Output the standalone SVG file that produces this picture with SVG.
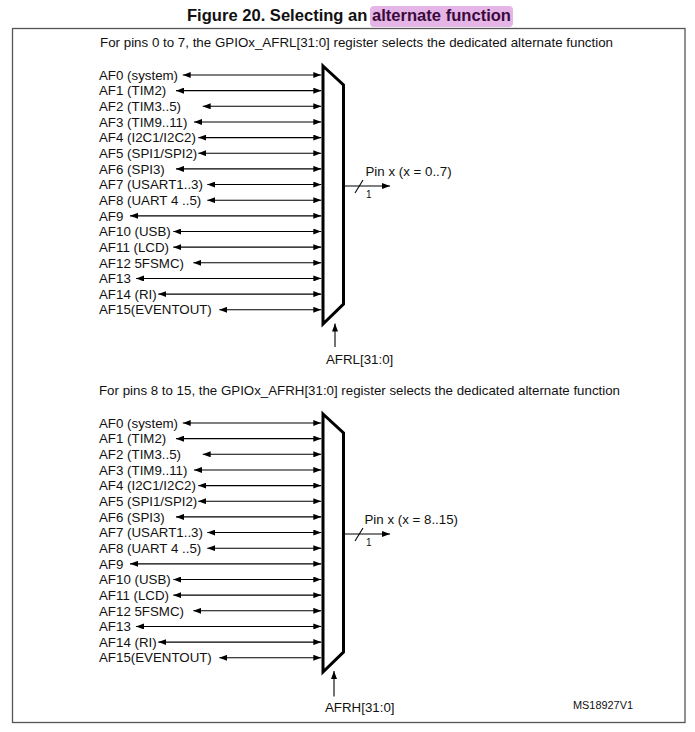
<svg xmlns="http://www.w3.org/2000/svg" width="695" height="732" viewBox="0 0 695 732">
<style>
text { font-family: "Liberation Sans", Arial, sans-serif; fill: #111; }
.lbl { font-size: 13.3px; }
.sub { font-size: 13.3px; }
.title { font-size: 16.5px; font-weight: bold; }
.small { font-size: 10px; }
.ref { font-size: 10.5px; }
.mux { fill: #fff; stroke: #000; stroke-width: 3; stroke-linejoin: miter; }
.frame { fill: #fff; stroke: #555; stroke-width: 1.3; }
.conn line { stroke: #000; stroke-width: 1.1; }
.bi { marker-start: url(#ah); marker-end: url(#ah); }
.uni { marker-end: url(#ah); }
</style>
<defs>
<marker id="ah" viewBox="0 0 8 6" refX="8" refY="3" markerWidth="8" markerHeight="6" markerUnits="userSpaceOnUse" orient="auto-start-reverse">
<path d="M0,0 L8,3 L0,6 z" fill="#000"/>
</marker>
</defs>
<rect width="695" height="732" fill="#fff"/>
<g id="title">
<rect x="370" y="6" width="143" height="21" rx="4" fill="#e4b5e6"/>
<text class="title" x="187" y="21" textLength="324" lengthAdjust="spacingAndGlyphs">Figure 20. Selecting an <tspan fill="#3a0a3a">alternate function</tspan></text>
</g>
<g id="frame">
<rect class="frame" x="12.5" y="28.5" width="672.5" height="694"/>
</g>
<g id="subtitle-afrl">
<text class="sub" x="100" y="47" textLength="513" lengthAdjust="spacingAndGlyphs">For pins 0 to 7, the GPIOx_AFRL[31:0] register selects the dedicated alternate function</text>
</g>
<g id="subtitle-afrh">
<text class="sub" x="99" y="395" textLength="521" lengthAdjust="spacingAndGlyphs">For pins 8 to 15, the GPIOx_AFRH[31:0] register selects the dedicated alternate function</text>
</g>
<g id="inputs-afrl">
<text class="lbl" x="99" y="79.7">AF0 (system)</text>
<text class="lbl" x="99" y="95.35">AF1 (TIM2)</text>
<text class="lbl" x="99" y="111">AF2 (TIM3..5)</text>
<text class="lbl" x="99" y="126.65">AF3 (TIM9..11)</text>
<text class="lbl" x="99" y="142.3">AF4 (I2C1/I2C2)</text>
<text class="lbl" x="99" y="157.95">AF5 (SPI1/SPI2)</text>
<text class="lbl" x="99" y="173.6">AF6 (SPI3)</text>
<text class="lbl" x="99" y="189.25">AF7 (USART1..3)</text>
<text class="lbl" x="99" y="204.9">AF8 (UART 4 ..5)</text>
<text class="lbl" x="99" y="220.55">AF9</text>
<text class="lbl" x="99" y="236.2">AF10 (USB)</text>
<text class="lbl" x="99" y="251.85">AF11 (LCD)</text>
<text class="lbl" x="99" y="267.5">AF12 5FSMC)</text>
<text class="lbl" x="99" y="283.15">AF13</text>
<text class="lbl" x="99" y="298.8">AF14 (RI)</text>
<text class="lbl" x="99" y="314.45">AF15(EVENTOUT)</text>
</g>
<g id="inputs-afrh">
<text class="lbl" x="99" y="427.7">AF0 (system)</text>
<text class="lbl" x="99" y="443.35">AF1 (TIM2)</text>
<text class="lbl" x="99" y="459">AF2 (TIM3..5)</text>
<text class="lbl" x="99" y="474.65">AF3 (TIM9..11)</text>
<text class="lbl" x="99" y="490.3">AF4 (I2C1/I2C2)</text>
<text class="lbl" x="99" y="505.95">AF5 (SPI1/SPI2)</text>
<text class="lbl" x="99" y="521.6">AF6 (SPI3)</text>
<text class="lbl" x="99" y="537.25">AF7 (USART1..3)</text>
<text class="lbl" x="99" y="552.9">AF8 (UART 4 ..5)</text>
<text class="lbl" x="99" y="568.55">AF9</text>
<text class="lbl" x="99" y="584.2">AF10 (USB)</text>
<text class="lbl" x="99" y="599.85">AF11 (LCD)</text>
<text class="lbl" x="99" y="615.5">AF12 5FSMC)</text>
<text class="lbl" x="99" y="631.15">AF13</text>
<text class="lbl" x="99" y="646.8">AF14 (RI)</text>
<text class="lbl" x="99" y="662.45">AF15(EVENTOUT)</text>
</g>
<g id="mux-afrl">
<polygon class="mux" points="323,66 343.5,85 343.5,304 323,324"/>
<text class="lbl" x="365.5" y="176">Pin x (x = 0..7)</text>
<text class="small" x="366" y="198">1</text>
<text class="lbl" x="326" y="363.5">AFRL[31:0]</text>
</g>
<g id="mux-afrh">
<polygon class="mux" points="323,414 343.5,433 343.5,652 323,672"/>
<text class="lbl" x="364.5" y="524">Pin x (x = 8..15)</text>
<text class="small" x="366" y="546">1</text>
<text class="lbl" x="325" y="711.5">AFRH[31:0]</text>
</g>
<g id="ref">
<text class="ref" x="573" y="708.5" textLength="60" lengthAdjust="spacingAndGlyphs">MS18927V1</text>
</g>
<g id="connectors" class="conn">
<line class="bi" x1="182.7" y1="75" x2="321.3" y2="75"/>
<line class="bi" x1="176" y1="90.65" x2="321.3" y2="90.65"/>
<line class="bi" x1="202.7" y1="106.3" x2="321.3" y2="106.3"/>
<line class="bi" x1="194" y1="121.95" x2="321.3" y2="121.95"/>
<line class="bi" x1="198.3" y1="137.6" x2="321.3" y2="137.6"/>
<line class="bi" x1="198.3" y1="153.25" x2="321.3" y2="153.25"/>
<line class="bi" x1="176" y1="168.9" x2="321.3" y2="168.9"/>
<line class="bi" x1="207.3" y1="184.55" x2="321.3" y2="184.55"/>
<line class="bi" x1="207.3" y1="200.2" x2="321.3" y2="200.2"/>
<line class="bi" x1="130" y1="215.85" x2="321.3" y2="215.85"/>
<line class="bi" x1="173.3" y1="231.5" x2="321.3" y2="231.5"/>
<line class="bi" x1="173.3" y1="247.15" x2="321.3" y2="247.15"/>
<line class="bi" x1="193.3" y1="262.8" x2="321.3" y2="262.8"/>
<line class="bi" x1="136" y1="278.45" x2="321.3" y2="278.45"/>
<line class="bi" x1="158.3" y1="294.1" x2="321.3" y2="294.1"/>
<line class="bi" x1="219.3" y1="309.75" x2="321.3" y2="309.75"/>
<line class="uni" x1="345" y1="186" x2="390" y2="186"/>
<line x1="355" y1="193" x2="363" y2="180"/>
<line class="uni" x1="335" y1="347" x2="335" y2="323.5"/>

<line class="bi" x1="182.7" y1="423" x2="321.3" y2="423"/>
<line class="bi" x1="176" y1="438.65" x2="321.3" y2="438.65"/>
<line class="bi" x1="202.7" y1="454.3" x2="321.3" y2="454.3"/>
<line class="bi" x1="194" y1="469.95" x2="321.3" y2="469.95"/>
<line class="bi" x1="198.3" y1="485.6" x2="321.3" y2="485.6"/>
<line class="bi" x1="198.3" y1="501.25" x2="321.3" y2="501.25"/>
<line class="bi" x1="176" y1="516.9" x2="321.3" y2="516.9"/>
<line class="bi" x1="207.3" y1="532.55" x2="321.3" y2="532.55"/>
<line class="bi" x1="207.3" y1="548.2" x2="321.3" y2="548.2"/>
<line class="bi" x1="130" y1="563.85" x2="321.3" y2="563.85"/>
<line class="bi" x1="173.3" y1="579.5" x2="321.3" y2="579.5"/>
<line class="bi" x1="173.3" y1="595.15" x2="321.3" y2="595.15"/>
<line class="bi" x1="193.3" y1="610.8" x2="321.3" y2="610.8"/>
<line class="bi" x1="136" y1="626.45" x2="321.3" y2="626.45"/>
<line class="bi" x1="158.3" y1="642.1" x2="321.3" y2="642.1"/>
<line class="bi" x1="219.3" y1="657.75" x2="321.3" y2="657.75"/>
<line class="uni" x1="345" y1="534" x2="390" y2="534"/>
<line x1="355" y1="541" x2="363" y2="528"/>
<line class="uni" x1="334" y1="696.5" x2="334" y2="671"/>
</g>
</svg>
